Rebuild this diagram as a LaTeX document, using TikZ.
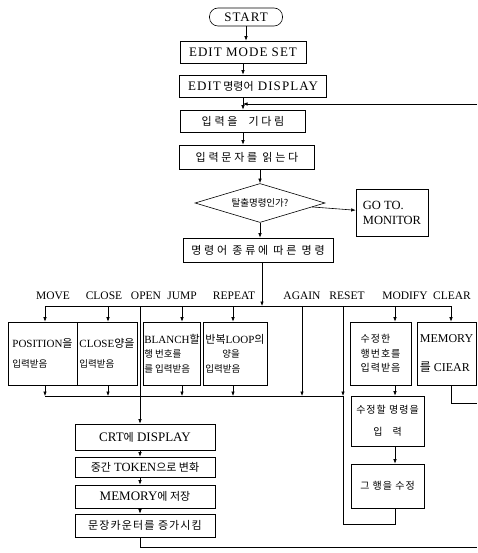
\documentclass[tikz,border=0pt]{standalone}
\usepackage{fontspec}
\setmainfont{Liberation Serif}
\newfontfamily\ls{Liberation Serif}[LetterSpace=8]
\newfontfamily\kr{Noto Sans CJK KR}
\newfontfamily\krt{Noto Sans CJK KR}[LetterSpace=10]
\newfontfamily\krs{Noto Sans CJK KR}[LetterSpace=25]
\usetikzlibrary{shapes.geometric,arrows.meta}

\begin{document}
\begin{tikzpicture}[x=1pt, y=-1pt, line width=0.6pt, >={Latex[length=4.5pt,width=3.5pt]},
  every node/.style={inner sep=1pt, font=\fontsize{13}{15}\selectfont},
  box/.style={draw, rectangle, minimum height=22pt},
  midbox/.style={draw, rectangle, minimum height=63pt, align=left, font=\fontsize{11}{14.5}\selectfont},
  lab/.style={font=\fontsize{11.5}{13}\selectfont}]
  \useasboundingbox (0,0) rectangle (477,553);

  \node[draw, rounded corners=8.5pt, minimum width=73pt, minimum height=18pt] (start) at (246,17) {\ls START};
  \node[box, minimum width=126pt] (modeset) at (243,52) {\ls EDIT MODE SET};
  \node[box, minimum width=147pt] (cmddisp) at (253,86) {\ls EDIT{\kr\fontsize{11}{13}\selectfont\ 명령어} DISPLAY};
  \node[box, minimum width=125pt, font=\krs\fontsize{11}{13}\selectfont] (wait) at (243,121) {입력을\quad 기다림};
  \node[box, minimum width=135pt, minimum height=24pt, font=\krs\fontsize{11}{13}\selectfont] (read) at (247,157) {입력문자를\ 읽는다};
  \node[draw, diamond, aspect=3.3, minimum width=130pt, minimum height=39pt, inner sep=0pt, font=\kr\fontsize{9.5}{10}\selectfont] (exit) at (260,203) {탈출명령인가?};
  \node[draw, rectangle, minimum width=72pt, minimum height=47pt, align=left, font=\fontsize{12.5}{15}\selectfont] (monitor) at (392,213) {GO TO.\\MONITOR};
  \node[box, minimum width=150pt, minimum height=24pt, font=\krs\fontsize{11}{13}\selectfont] (kind) at (258,250) {명령어 종류에 따른 명령};

  \coordinate (mv) at (45,306);
  \coordinate (cl) at (108,306);
  \coordinate (op) at (140,306);
  \coordinate (jp) at (182,306);
  \coordinate (rp) at (233,306);
  \coordinate (ag) at (302,306);
  \coordinate (rs) at (343,306);
  \coordinate (md) at (395,306);
  \coordinate (cr) at (451,306);
  \coordinate (go) at (262,306);

  \node[lab] (lmv) at (53,296) {MOVE};
  \node[lab] (lcl) at (104,296) {CLOSE};
  \node[lab] (lop) at (146,296) {OPEN};
  \node[lab] (ljp) at (182,296) {JUMP};
  \node[lab] (lrp) at (234,296) {REPEAT};
  \node[lab] (lag) at (302,296) {AGAIN};
  \node[lab] (lrs) at (347,296) {RESET};
  \node[lab] (lmd) at (405,296) {MODIFY};
  \node[lab] (lcr) at (452,296) {CLEAR};

  \node[midbox, minimum width=69pt, font=\fontsize{11}{20}\selectfont] (posin) at (42.5,353.5) {POSITION{\kr 을}\\{\kr\fontsize{9.5}{10}\selectfont 입력받음}};
  \node[midbox, minimum width=60pt, font=\fontsize{11}{20}\selectfont] (closein) at (107,353.5) {CLOSE{\kr 양을}\\{\kr\fontsize{9.5}{10}\selectfont 입력받음}};
  \node[midbox, minimum width=57pt] (jumpin) at (172,353.5) {BLANCH{\kr 할}\\{\kr\fontsize{9.5}{10}\selectfont 행 번호를}\\{\kr\fontsize{9.5}{10}\selectfont 를 입력받음}};
  \node[midbox, minimum width=64pt] (loopin) at (235,353.5) {{\kr 반복}LOOP{\kr 의}\\{\kr\fontsize{9.5}{10}\selectfont\hspace{17pt}양을}\\{\kr\fontsize{9.5}{10}\selectfont 입력받음}};
  \node[midbox, minimum width=61pt, font=\krt\fontsize{10}{14.5}\selectfont] (rowin) at (380.5,353.5) {수정한\\행번호를\\입력받음};
  \node[midbox, minimum width=59pt, font=\fontsize{12}{29}\selectfont] (clearmem) at (446.5,353.5) {MEMORY\\{\kr 를} CIEAR};
  \node[draw, rectangle, minimum width=73pt, minimum height=50pt, align=center, font=\krt\fontsize{10}{22}\selectfont] (newcmd) at (387.5,421) {수정할\ 명령을\\입\quad 력};
  \node[draw, rectangle, minimum width=73pt, minimum height=44pt, font=\krt\fontsize{10}{11}\selectfont] (fixrow) at (387.5,486) {그 행을 수정};

  \node[box, minimum width=140pt, minimum height=26pt] (crt) at (145,437) {CRT{\kr\fontsize{11}{13}\selectfont 에} DISPLAY};
  \node[box, minimum width=140pt, minimum height=20pt, font=\fontsize{12.5}{15}\selectfont] (token) at (145,467) {{\kr\fontsize{11}{13}\selectfont 중간} TOKEN{\kr\fontsize{11}{13}\selectfont 으로 변화}};
  \node[box, minimum width=140pt, minimum height=23pt] (store) at (145,496.5) {MEMORY{\kr\fontsize{11}{13}\selectfont 에 저장}};
  \node[box, minimum width=140pt, minimum height=23pt, font=\krt\fontsize{11}{13}\selectfont] (count) at (145,525.5) {문장카운터를 증가시킴};

  \coordinate (backin) at (477,104);
  \coordinate (clrout) at (477,403);
  \coordinate (endout) at (477,547);
  \coordinate (sink) at (343,396);

  \draw[->] (start) -- (start |- modeset.north);
  \draw[->] (modeset) -- (modeset |- cmddisp.north);
  \draw[->] (wait |- cmddisp.south) -- (wait.north);
  \draw[->] (backin) -- (wait.north |- backin);
  \draw[->] (wait) -- (wait |- read.north);
  \draw[->] (exit.north |- read.south) -- (exit.north);
  \draw[->] (exit) -- (monitor);
  \draw[->] (exit.south) -- (exit.south |- kind.north);
  \draw[->] (kind.south -| go) -- (go);
  \draw (mv) -- (cr);
  \foreach \c/\b in {mv/posin, cl/closein, jp/jumpin, rp/loopin, md/rowin, cr/clearmem}
    \draw[->] (\c) -- (\c |- \b.north);
  \draw (mv |- sink) -- (sink);
  \foreach \c/\b in {mv/posin, cl/closein, jp/jumpin, rp/loopin}
    \draw[->] (\c |- \b.south) -- (\c |- sink);
  \draw[->] (ag) -- (ag |- sink);
  \draw[->] (rs) -- (sink);
  \draw[->] (op) -- (op |- crt.north);
  \draw[->] (md |- rowin.south) -- (md |- newcmd.north);
  \draw[->] (md |- newcmd.south) -- (md |- fixrow.north);
  \draw (md |- fixrow.south) -- (md |- 0,524) -| (sink);
  \draw (cr |- clearmem.south) |- (clrout);
  \draw[->] (op |- crt.south) -- (op |- token.north);
  \draw[->] (op |- token.south) -- (op |- store.north);
  \draw[->] (op |- store.south) -- (op |- count.north);
  \draw (op |- count.south) |- (endout);
\end{tikzpicture}
\end{document}
